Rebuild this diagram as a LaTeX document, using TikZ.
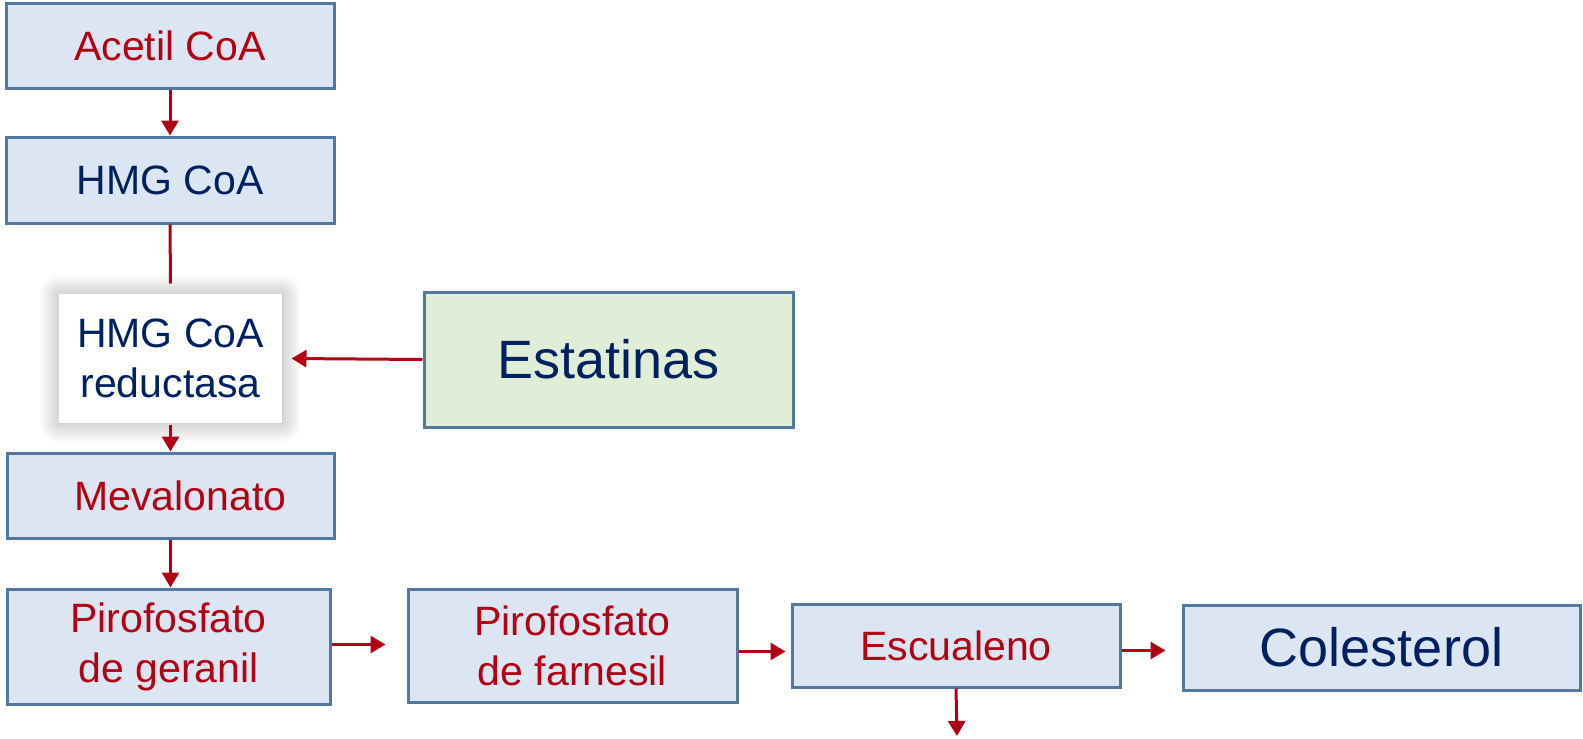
\documentclass[tikz,border=0pt]{standalone}
\usepackage{fontspec}
\setmainfont{Liberation Sans}
\usetikzlibrary{arrows.meta,shadows.blur}
\definecolor{rojo}{RGB}{180,0,20}
\definecolor{azul}{RGB}{0,32,96}
\definecolor{borde}{RGB}{82,120,160}
\definecolor{celeste}{RGB}{220,230,242}
\definecolor{verde}{RGB}{224,238,216}
\begin{document}
\begin{tikzpicture}[x=1pt, y=-1pt,
    caja/.style={draw=borde, line width=3pt, fill=celeste, inner sep=0pt, align=center,
        font=\fontsize{41}{50}\selectfont},
    flecha/.style={draw=rojo, line width=3pt, -{Triangle[width=17pt,length=15pt]}},
    linea/.style={draw=rojo, line width=3pt}]
    \useasboundingbox (0,0) rectangle (1583,739);

    % Columna izquierda
    \node[caja, minimum width=328pt, minimum height=85pt, text=rojo] (acetil) at (170,45.5) {Acetil CoA};
    \node[caja, minimum width=328pt, minimum height=86pt, text=azul] (hmg) at (170,180) {HMG CoA};
    \node[caja, draw=none, fill=white, minimum width=223pt, minimum height=129pt, text=azul,
        blur shadow={shadow xshift=0pt, shadow yshift=0pt, shadow blur radius=20pt,
            shadow blur steps=25, shadow opacity=35}]
        (reduc) at (170.5,358.5) {HMG CoA\\reductasa};
    \node[caja, minimum width=327pt, minimum height=85pt, text=rojo] (meval) at (170.5,495.5) {\hspace{20pt}Mevalonato};
    \node[caja, minimum width=323pt, minimum height=115pt, text=rojo] (geranil) at (168.5,646.5) {Pirofosfato\\de geranil};

    % Inhibidor
    \node[caja, fill=verde, minimum width=369pt, minimum height=135pt, text=azul,
        font=\fontsize{54}{60}\selectfont] (estat) at (608.5,359.5) {Estatinas};

    % Fila inferior
    \node[caja, minimum width=329pt, minimum height=113pt, text=rojo] (farnesil) at (572.5,645.5) {Pirofosfato\\de farnesil};
    \node[caja, minimum width=328pt, minimum height=83pt, text=rojo] (escual) at (956,645.5) {Escualeno};
    \node[caja, minimum width=397pt, minimum height=85pt, text=azul,
        font=\fontsize{54}{60}\selectfont] (coles) at (1381.5,647.5) {Colesterol};
    \coordinate (salida) at (957,736);

    % Flechas verticales
    \draw[flecha] (acetil.south) -- (hmg.north);
    \draw[linea] (hmg.south) -- ([yshift=9pt]reduc.north);
    \draw[flecha] (reduc.south) -- (reduc.south |- meval.north);
    \draw[flecha] (meval.south) -- (meval.south |- geranil.north);
    \draw[flecha] (escual.south) -- (salida);

    % Flechas horizontales
    \draw[flecha] (estat.west) -- ([xshift=8pt]reduc.east);
    \draw[flecha] ([yshift=2pt]geranil.east) -- ([xshift=-21pt,yshift=1pt]farnesil.west);
    \draw[flecha] ([yshift=-6pt]farnesil.east) -- ([xshift=-5pt,yshift=-6pt]escual.west);
    \draw[flecha] ([yshift=-5pt]escual.east) -- ([xshift=-16pt,yshift=-3pt]coles.west);
\end{tikzpicture}
\end{document}
